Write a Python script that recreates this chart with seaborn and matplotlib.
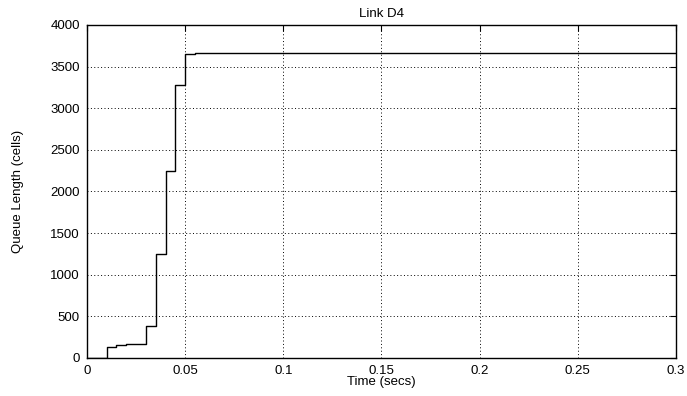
import matplotlib
matplotlib.use("Agg")
import matplotlib.pyplot as plt
import seaborn as sns
import pandas as pd

# Queue occupancy samples (time in seconds, queue length in cells)
time_secs = [0.0, 0.010, 0.015, 0.020, 0.030, 0.035, 0.040, 0.045, 0.050, 0.055, 0.300]
queue_cells = [0, 128, 152, 168, 385, 1243, 2244, 3274, 3654, 3666, 3666]

x_ticks = [0, 0.05, 0.1, 0.15, 0.2, 0.25, 0.3]
x_tick_labels = ["0", "0.05", "0.1", "0.15", "0.2", "0.25", "0.3"]
y_ticks = [0, 500, 1000, 1500, 2000, 2500, 3000, 3500, 4000]

sns.set_theme(style="white")
plt.rcParams["font.family"] = ["Liberation Sans", "DejaVu Sans"]
plt.rcParams["text.color"] = "black"
plt.rcParams["axes.labelcolor"] = "black"

df = pd.DataFrame({"Time": time_secs, "Queue": queue_cells})

fig, ax = plt.subplots(figsize=(6.87, 3.96), dpi=100)
fig.subplots_adjust(left=0.1266, right=0.984, top=0.937, bottom=0.096)

sns.lineplot(data=df, x="Time", y="Queue", ax=ax, color="black",
             linewidth=1.0, drawstyle="steps-post")

ax.set_xlim(0, 0.3)
ax.set_ylim(0, 4000)
ax.set_xticks(x_ticks)
ax.set_xticklabels(x_tick_labels)
ax.set_yticks(y_ticks)

ax.grid(True, color="black", linestyle=(0, (1, 2.5)), linewidth=0.7)
ax.set_axisbelow(True)

for s in ax.spines.values():
    s.set_visible(True)
    s.set_color("black")
    s.set_linewidth(1.0)

ax.tick_params(axis="both", direction="in", length=4, width=0.8,
               top=True, right=True, labelsize=9.5, colors="black", pad=5)

ax.set_title("Link D4", fontsize=9.5, pad=6, color="black")
ax.set_xlabel("Time (secs)", fontsize=9.5, labelpad=-1, color="black")
ax.set_ylabel("Queue Length (cells)", fontsize=9.5, labelpad=19, color="black")

fig.savefig("out.png", dpi=100)
